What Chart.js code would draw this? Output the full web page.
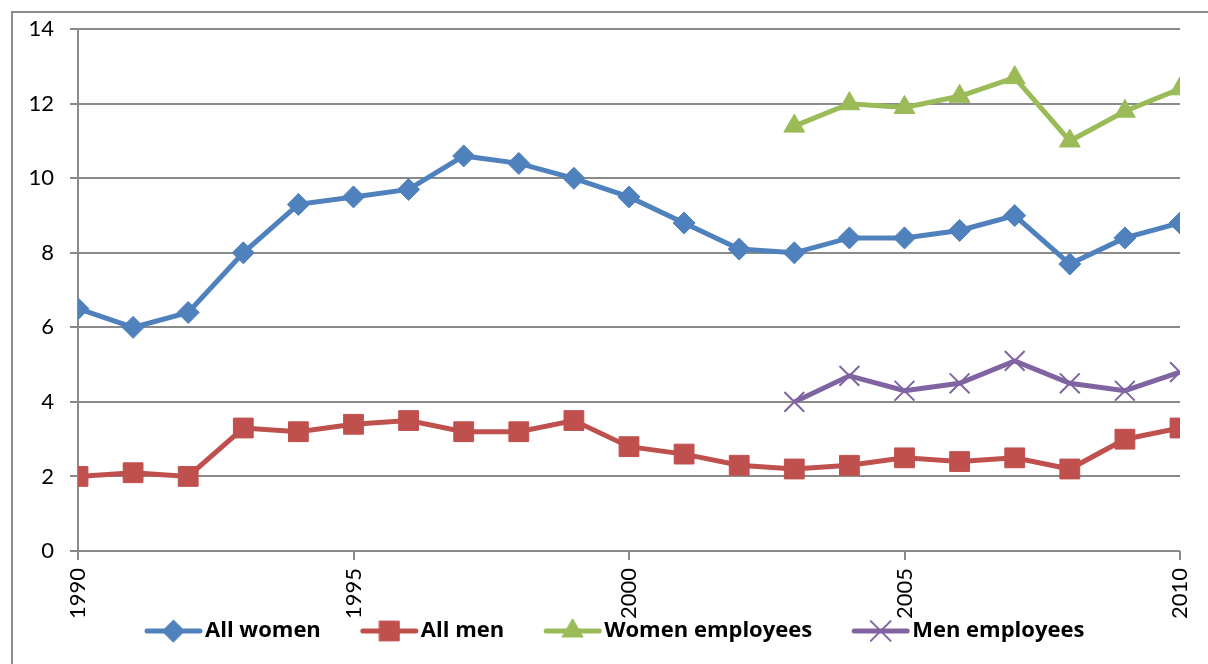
<!DOCTYPE html>
<html>
<head>
<meta charset="utf-8">
<script src="https://cdn.jsdelivr.net/npm/chart.js@4.4.0/dist/chart.umd.min.js"></script>
<style>
  html, body { margin: 0; padding: 0; background: #fff; }
  canvas { display: block; }
</style>
</head>
<body>
<canvas id="chart" width="1208" height="664"></canvas>
<script>
var years = [1990, 1991, 1992, 1993, 1994, 1995, 1996, 1997, 1998, 1999, 2000,
             2001, 2002, 2003, 2004, 2005, 2006, 2007, 2008, 2009, 2010];
var allWomen = [6.5, 6.0, 6.4, 8.0, 9.3, 9.5, 9.7, 10.6, 10.4, 10.0, 9.5,
                8.8, 8.1, 8.0, 8.4, 8.4, 8.6, 9.0, 7.7, 8.4, 8.8];
var allMen = [2.0, 2.1, 2.0, 3.3, 3.2, 3.4, 3.5, 3.2, 3.2, 3.5, 2.8,
              2.6, 2.3, 2.2, 2.3, 2.5, 2.4, 2.5, 2.2, 3.0, 3.3];
var womenEmployees = [null, null, null, null, null, null, null, null, null, null, null,
                      null, null, 11.4, 12.0, 11.9, 12.2, 12.7, 11.0, 11.8, 12.4];
var menEmployees = [null, null, null, null, null, null, null, null, null, null, null,
                    null, null, 4.0, 4.7, 4.3, 4.5, 5.1, 4.5, 4.3, 4.8];
var yearTicks = [1990, 1995, 2000, 2005, 2010];

var fontFamily = "Lato, 'Open Sans', sans-serif";
var legendFont = "'Open Sans', Lato, sans-serif";
var gridColor = '#8a8a8a';

function pts(vals) {
  return years.map(function (yr, i) { return { x: yr, y: vals[i] }; });
}

function series(label, vals, color, style, radius, pbw) {
  return {
    label: label,
    data: pts(vals),
    borderColor: color,
    backgroundColor: color,
    borderWidth: 5,
    tension: 0,
    pointStyle: style,
    pointRadius: radius,
    pointHoverRadius: radius,
    pointBorderWidth: pbw,
    pointBackgroundColor: color,
    pointBorderColor: color
  };
}

// frame round the whole chart (only top and left show in the picture)
var framePlugin = {
  id: 'frame',
  beforeDraw: function (chart) {
    var c = chart.ctx;
    c.save();
    c.fillStyle = '#fff';
    c.fillRect(0, 0, chart.width, chart.height);
    c.strokeStyle = '#8c8c8c';
    c.lineWidth = 2;
    c.beginPath();
    c.moveTo(12, chart.height);
    c.lineTo(12, 12);
    c.lineTo(chart.width, 12);
    c.stroke();
    c.restore();
  }
};

// excel-like legend: line sample with marker in the middle
var legendPlugin = {
  id: 'lineLegend',
  afterDraw: function (chart) {
    var c = chart.ctx;
    var x = 147, y = 631;
    c.save();
    c.font = "bold 22px " + legendFont;
    c.textBaseline = 'middle';
    chart.data.datasets.forEach(function (ds) {
      c.strokeStyle = ds.borderColor;
      c.lineWidth = 5;
      c.lineCap = 'round';
      c.beginPath();
      c.moveTo(x, y);
      c.lineTo(x + 53, y);
      c.stroke();
      c.fillStyle = ds.backgroundColor;
      c.lineWidth = ds.pointBorderWidth;
      Chart.helpers.drawPoint(c, { pointStyle: ds.pointStyle, radius: ds.pointRadius, borderWidth: ds.pointBorderWidth }, x + 26.5, y);
      c.fillStyle = '#000';
      c.fillText(ds.label, x + 58, y);
      x = x + 58 + c.measureText(ds.label).width + 42;
    });
    c.restore();
  }
};

new Chart(document.getElementById('chart').getContext('2d'), {
  type: 'line',
  data: {
    datasets: [
      series('All women', allWomen, '#4f81bd', 'rectRot', 11, 1),
      series('All men', allMen, '#c0504d', 'rect', 14, 1),
      series('Women employees', womenEmployees, '#9bbb59', 'triangle', 12, 1),
      series('Men employees', menEmployees, '#8064a2', 'crossRot', 14, 2)
    ]
  },
  options: {
    responsive: false,
    animation: false,
    layout: { padding: { top: 29, right: 28, left: 0, bottom: 0 } },
    plugins: {
      legend: { display: false },
      tooltip: { enabled: false }
    },
    scales: {
      x: {
        type: 'linear',
        min: 1990,
        max: 2010,
        afterBuildTicks: function (scale) {
          scale.ticks = yearTicks.map(function (v) { return { value: v }; });
        },
        afterFit: function (scale) {
          scale.height = 113;
          scale.paddingLeft = 0;
          scale.paddingRight = 0;
        },
        grid: { drawOnChartArea: false, drawTicks: true, tickLength: 9, color: gridColor, lineWidth: 2 },
        border: { display: false },
        ticks: {
          minRotation: 90,
          maxRotation: 90,
          padding: 8,
          color: '#000',
          font: { family: fontFamily, size: 22 },
          callback: function (v) { return String(v); }
        }
      },
      y: {
        min: 0,
        max: 14,
        afterFit: function (scale) { scale.width = 78; },
        grid: { color: gridColor, lineWidth: 2, tickLength: 8 },
        border: { display: true, color: gridColor, width: 2 },
        ticks: {
          stepSize: 2,
          padding: 16,
          color: '#000',
          font: { family: fontFamily, size: 22 }
        }
      }
    }
  },
  plugins: [framePlugin, legendPlugin]
});
</script>
</body>
</html>
